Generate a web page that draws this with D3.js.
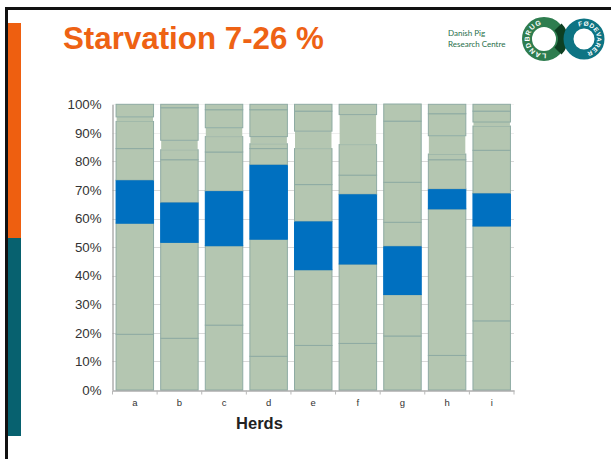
<!DOCTYPE html>
<html><head><meta charset="utf-8">
<script src="https://cdnjs.cloudflare.com/ajax/libs/d3/7.8.5/d3.min.js"></script>
<style>html,body{margin:0;padding:0;background:#fff}svg{display:block}text{font-family:"Liberation Sans",Arial,sans-serif}</style>
</head><body><svg id="c" width="611" height="459"></svg>
<script>
const herds = ["a","b","c","d","e","f","g","h","i"];
const layer1 = [19.5,18.1,22.7,11.8,15.6,16.3,18.9,12.1,24.2];
const layer2 = [38.9,33.6,27.8,41.0,26.5,27.8,14.5,51.3,33.2];
const starvation = [15.0,13.9,19.1,26.0,16.9,24.4,16.9,6.9,11.4];
const layer4 = [11.1,15.0,13.7,5.7,12.9,6.7,8.4,10.3,15.1];
const layer5 = [9.5,3.5,5.4,1.7,12.6,10.7,14.0,2.0,8.5];
const layer6 = [1.6,3.3,3.1,2.5,6.1,10.5,0,6.4,1.4];
const layer7 = [4.4,11.4,6.3,9.4,7.0,3.6,21.4,7.7,3.8];
const layer8 = [0,1.2,1.9,1.9,2.4,0,6.0,3.3,2.4];
const yTicks = [0,10,20,30,40,50,60,70,80,90,100];
const title = "Starvation 7-26 %";
const xTitle = "Herds";

const layers = {layer1,layer2,starvation,layer4,layer5,layer6,layer7,layer8};
const keys = Object.keys(layers);
const rows = herds.map((h,i)=>{const r={herd:h};keys.forEach(k=>r[k]=layers[k][i]);return r;});
const stacked = d3.stack().keys(keys)(rows);

const svg = d3.select("#c");
const x = d3.scaleBand().domain(herds).range([112.5,514]).paddingInner(0.16).paddingOuter(0.08);
const y = d3.scaleLinear().domain([0,100]).range([390,104.3]);

// slide frame
svg.append("rect").attr("x",5).attr("y",7).attr("width",606).attr("height",3).attr("fill","#111");
svg.append("rect").attr("x",5).attr("y",7).attr("width",3).attr("height",452).attr("fill","#111");
svg.append("rect").attr("x",8).attr("y",23).attr("width",13).attr("height",215).attr("fill","#ee5f10");
svg.append("rect").attr("x",8).attr("y",238).attr("width",13).attr("height",198).attr("fill","#07616f");
svg.append("text").attr("x",63).attr("y",49).attr("font-size",31.3).attr("font-weight","bold").attr("fill","#ee6214").text(title);

// logo
svg.append("text").attr("x",448).attr("y",36).attr("font-size",8).attr("fill","#1f6f4a").style("font-family","Lato").text("Danish Pig");
svg.append("text").attr("x",448).attr("y",46.5).attr("font-size",8).attr("fill","#1f6f4a").style("font-family","Lato").text("Research Centre");
const defs = svg.append("defs");
defs.append("path").attr("id","la").attr("d","M 546 53.4 A 14.5 14.5 0 1 1 553 27.6");
defs.append("path").attr("id","fo").attr("d","M 579 26.7 A 13.2 13.2 0 1 1 579 51.3");
svg.append("circle").attr("cx",544).attr("cy",39).attr("r",17).attr("fill","none").attr("stroke","#2e7d4f").attr("stroke-width",10);
svg.append("path").attr("d","M 558 27 A 17 17 0 0 1 558 51").attr("fill","none").attr("stroke","#0d3f22").attr("stroke-width",10);
svg.append("circle").attr("cx",584).attr("cy",39).attr("r",15.5).attr("fill","none").attr("stroke","#0d7483").attr("stroke-width",10);
svg.append("text").attr("font-size",7).attr("font-weight","bold").attr("letter-spacing",0.6).attr("fill","#fff").append("textPath").attr("href","#la").text("LANDBRUG");
svg.append("text").attr("font-size",6.5).attr("font-weight","bold").attr("letter-spacing",0.3).attr("fill","#fff").append("textPath").attr("href","#fo").text("FØDEVARER");

// grid
svg.append("g").selectAll("line").data(yTicks.filter(d=>d>0)).join("line")
  .attr("x1",112.5).attr("x2",514).attr("y1",d=>Math.round(y(d))+.5).attr("y2",d=>Math.round(y(d))+.5)
  .attr("stroke",d=>d===90?"#eeeeee":d===100?"#f2f2f2":"#d9d9d9").attr("stroke-width",1);

// bars
const g = svg.append("g");
stacked.forEach(s=>{
  const blue = s.key==="starvation", pale = s.key==="layer6";
  g.append("g").selectAll("rect").data(s.filter(d=>d[1]>d[0])).join("rect")
    .attr("x",d=>x(d.data.herd)+(pale?0.5:0))
    .attr("width",x.bandwidth()-(pale?1:0))
    .attr("y",d=>y(d[1]))
    .attr("height",d=>y(d[0])-y(d[1]))
    .attr("fill",blue?"#0070c0":"#b4c6b1")
    .attr("stroke",blue?"#0070c0":pale?"none":"#8eaba3")
    .attr("stroke-width",1);
});
// redraw blue on top so its neighbours' outlines do not cut into it
g.append("g").selectAll("rect").data(stacked[2]).join("rect")
  .attr("x",d=>x(d.data.herd)).attr("width",x.bandwidth())
  .attr("y",d=>y(d[1])).attr("height",d=>y(d[0])-y(d[1])).attr("fill","#0070c0");

// axes
const yAxis = d3.axisLeft(y).tickValues(yTicks).tickFormat(d=>d+"%").tickSize(0).tickPadding(11);
const ya = svg.append("g").attr("transform","translate(112.5,0)").call(yAxis);
ya.select(".domain").attr("stroke","#868686").attr("stroke-width",1);
ya.selectAll("text").attr("font-size",13.3).attr("fill","#333").style("font-family","Liberation Sans");

const xa = svg.append("g").attr("transform","translate(0,390.5)").call(d3.axisBottom(x).tickSize(0).tickPadding(9));
xa.select(".domain").attr("stroke","#868686").attr("stroke-width",1);
xa.selectAll("text").attr("font-size",9.5).attr("fill","#333").style("font-family","Liberation Sans");
const edges = d3.range(herds.length+1).map(i=>x.range()[0]+i*x.step());
xa.append("g").selectAll("line").data(edges).join("line")
  .attr("x1",d=>d).attr("x2",d=>d).attr("y1",0).attr("y2",4).attr("stroke","#b8b8b8");

svg.append("text").attr("x",259.5).attr("y",429).attr("text-anchor","middle").attr("font-size",16.5).attr("font-weight","bold").attr("fill","#222").text(xTitle);
</script></body></html>
